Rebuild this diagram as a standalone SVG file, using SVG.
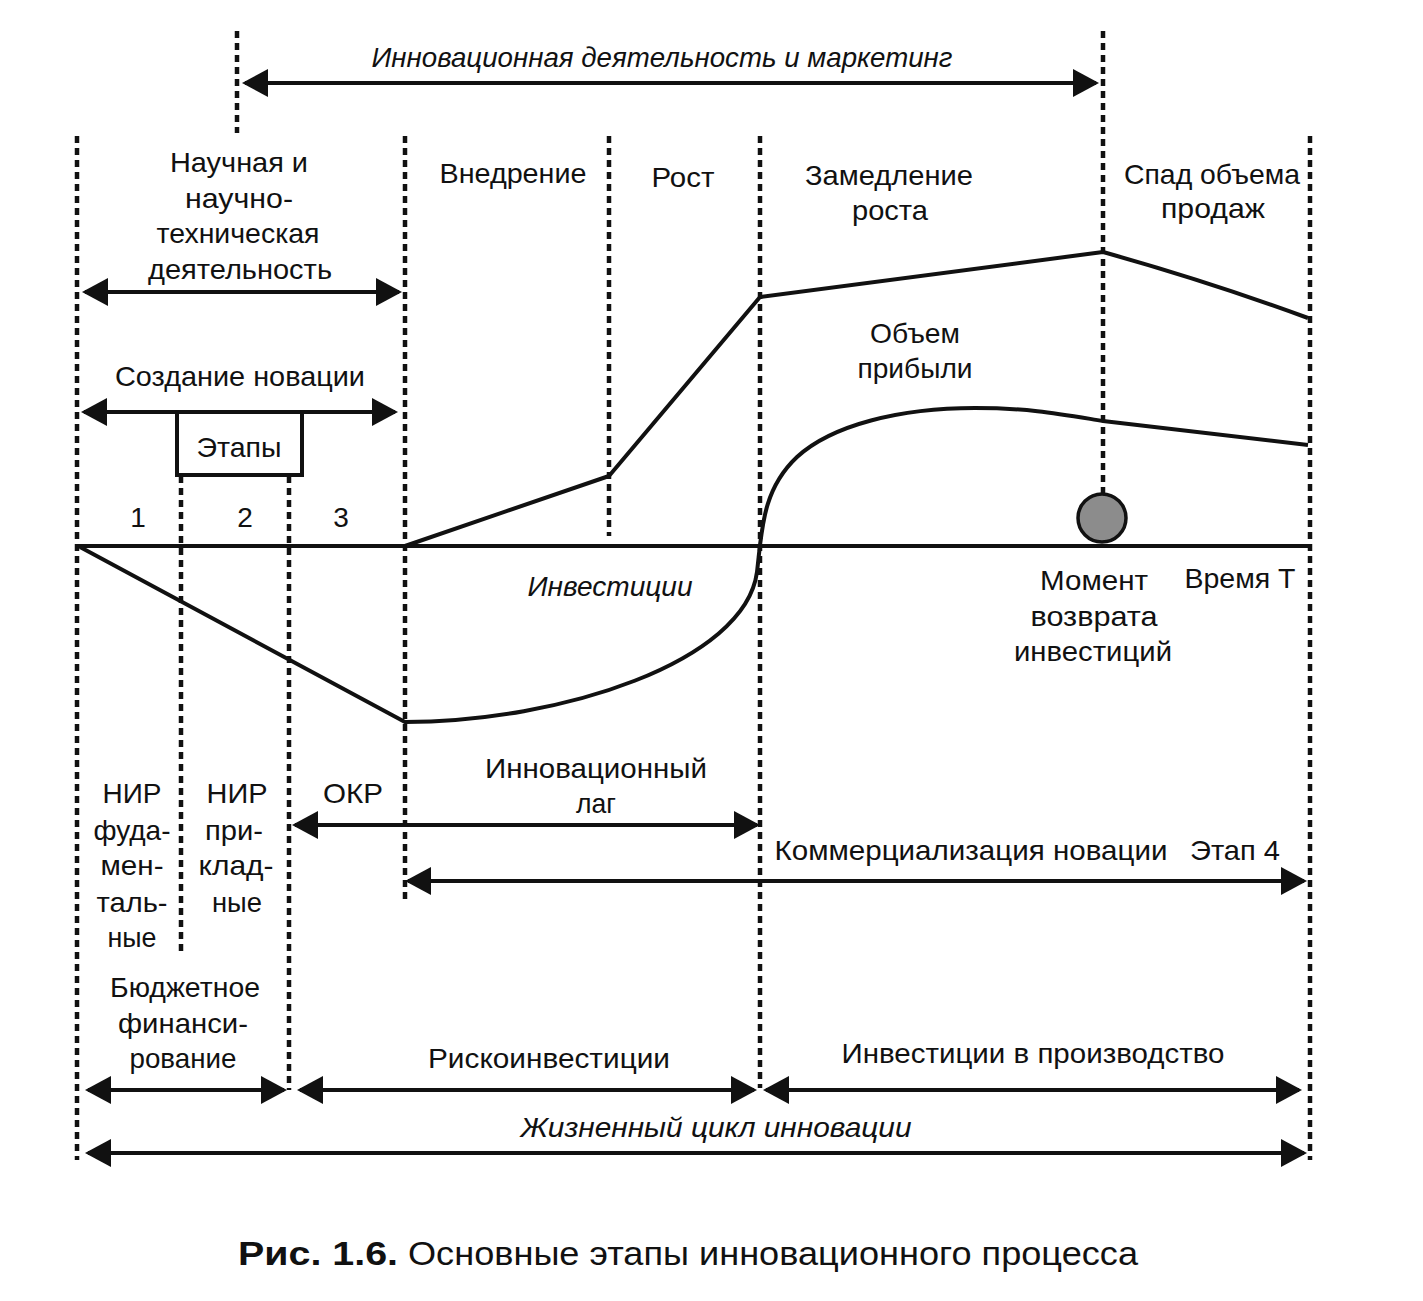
<svg xmlns="http://www.w3.org/2000/svg" width="1423" height="1301" viewBox="0 0 1423 1301">
<style>
.dash{stroke:#111;stroke-width:4.5;stroke-dasharray:7 5;fill:none}
.solid{stroke:#111;stroke-width:4;fill:none;stroke-linejoin:round}
.arr{stroke:#111;stroke-width:4;fill:none;marker-start:url(#ah);marker-end:url(#ah)}
text{font-family:"Liberation Sans",Arial,sans-serif;font-size:28px;fill:#111;text-anchor:middle}
.it{font-style:italic}
.cap{font-size:34px;text-anchor:start}
.capb{font-size:34px;text-anchor:start;font-weight:bold}
</style>
<defs>
<marker id="ah" viewBox="0 0 26 28" refX="23" refY="14" markerWidth="26" markerHeight="28" markerUnits="userSpaceOnUse" orient="auto-start-reverse">
<path d="M0,0 L26,14 L0,28 Z" fill="#111"/>
</marker>
</defs>
<rect width="1423" height="1301" fill="#fff"/>

<g id="guides">
<line class="dash" x1="77" y1="136" x2="77" y2="1160"/>
<line class="dash" x1="237" y1="31" x2="237" y2="133"/>
<line class="dash" x1="405" y1="136" x2="405" y2="900"/>
<line class="dash" x1="609" y1="136" x2="609" y2="536"/>
<line class="dash" x1="760" y1="136" x2="760" y2="1088"/>
<line class="dash" x1="1103" y1="31" x2="1103" y2="494"/>
<line class="dash" x1="1310" y1="136" x2="1310" y2="1160"/>
<line class="dash" x1="181" y1="476" x2="181" y2="956"/>
<line class="dash" x1="289" y1="476" x2="289" y2="1090"/>
</g>

<g id="axis">
<line class="solid" x1="77" y1="546" x2="1310" y2="546"/>
</g>

<g id="curves">
<path id="sales" class="solid" d="M405,546 L609,476 L760,297 L1103,252 Q1210,282 1308,318"/>
<path id="profit" class="solid" d="M80,547 L405,722 C560,722 745,662 757,572 C762,530 762,490 797,457 C832,425 900,408 975,408 C1030,408 1060,414 1103,421 L1308,445"/>
</g>

<g id="connectors">
<line class="arr" x1="245" y1="83" x2="1096" y2="83"/>
<line class="arr" x1="85" y1="292" x2="399" y2="292"/>
<line class="arr" x1="84" y1="412" x2="395" y2="412"/>
<line class="arr" x1="295" y1="825" x2="757" y2="825"/>
<line class="arr" x1="408" y1="881" x2="1304" y2="881"/>
<line class="arr" x1="88" y1="1090" x2="284" y2="1090"/>
<line class="arr" x1="300" y1="1090" x2="754" y2="1090"/>
<line class="arr" x1="766" y1="1090" x2="1299" y2="1090"/>
<line class="arr" x1="88" y1="1153" x2="1304" y2="1153"/>
</g>

<g id="node-etapy">
<rect x="177" y="412" width="125" height="63" fill="#fff" stroke="#111" stroke-width="4"/>
<text x="239" y="457" textLength="85" lengthAdjust="spacingAndGlyphs">Этапы</text>
</g>

<g id="node-moment">
<circle cx="1102" cy="518" r="24" fill="#8c8c8c" stroke="#111" stroke-width="3.5"/>
<text x="1094" y="590" textLength="108" lengthAdjust="spacingAndGlyphs">Момент</text>
<text x="1094" y="626" textLength="127" lengthAdjust="spacingAndGlyphs">возврата</text>
<text x="1093" y="661" textLength="158" lengthAdjust="spacingAndGlyphs">инвестиций</text>
</g>

<g id="label-marketing">
<text class="it" x="662" y="67" textLength="581" lengthAdjust="spacingAndGlyphs">Инновационная деятельность и маркетинг</text>
</g>

<g id="label-science">
<text x="239" y="172" textLength="138" lengthAdjust="spacingAndGlyphs">Научная и</text>
<text x="239" y="208" textLength="108" lengthAdjust="spacingAndGlyphs">научно-</text>
<text x="238" y="243" textLength="163" lengthAdjust="spacingAndGlyphs">техническая</text>
<text x="240" y="279" textLength="184" lengthAdjust="spacingAndGlyphs">деятельность</text>
</g>

<g id="label-phases">
<text x="513" y="183" textLength="147" lengthAdjust="spacingAndGlyphs">Внедрение</text>
<text x="683" y="187" textLength="63" lengthAdjust="spacingAndGlyphs">Рост</text>
<text x="889" y="185" textLength="168" lengthAdjust="spacingAndGlyphs">Замедление</text>
<text x="890" y="220" textLength="76" lengthAdjust="spacingAndGlyphs">роста</text>
<text x="1212" y="184" textLength="176" lengthAdjust="spacingAndGlyphs">Спад объема</text>
<text x="1213" y="218" textLength="104" lengthAdjust="spacingAndGlyphs">продаж</text>
</g>

<g id="label-profit">
<text x="915" y="343" textLength="90" lengthAdjust="spacingAndGlyphs">Объем</text>
<text x="915" y="378" textLength="115" lengthAdjust="spacingAndGlyphs">прибыли</text>
</g>

<g id="label-creation">
<text x="240" y="386" textLength="250" lengthAdjust="spacingAndGlyphs">Создание новации</text>
</g>

<g id="label-stages">
<text x="138" y="527">1</text>
<text x="245" y="527">2</text>
<text x="341" y="527">3</text>
</g>

<g id="label-investments">
<text class="it" x="610" y="596" textLength="165" lengthAdjust="spacingAndGlyphs">Инвестиции</text>
</g>

<g id="label-time">
<text x="1240" y="588" textLength="111" lengthAdjust="spacingAndGlyphs">Время Т</text>
</g>

<g id="label-lag">
<text x="596" y="778" textLength="222" lengthAdjust="spacingAndGlyphs">Инновационный</text>
<text x="596" y="813" textLength="40" lengthAdjust="spacingAndGlyphs">лаг</text>
</g>

<g id="label-nir1">
<text x="132" y="803" textLength="59" lengthAdjust="spacingAndGlyphs">НИР</text>
<text x="132" y="840" textLength="77" lengthAdjust="spacingAndGlyphs">фуда-</text>
<text x="132" y="875" textLength="63" lengthAdjust="spacingAndGlyphs">мен-</text>
<text x="132" y="912" textLength="71" lengthAdjust="spacingAndGlyphs">таль-</text>
<text x="132" y="947" textLength="49" lengthAdjust="spacingAndGlyphs">ные</text>
</g>

<g id="label-nir2">
<text x="237" y="803" textLength="61" lengthAdjust="spacingAndGlyphs">НИР</text>
<text x="234" y="840" textLength="58" lengthAdjust="spacingAndGlyphs">при-</text>
<text x="236" y="875" textLength="75" lengthAdjust="spacingAndGlyphs">клад-</text>
<text x="237" y="912" textLength="50" lengthAdjust="spacingAndGlyphs">ные</text>
</g>

<g id="label-okr">
<text x="353" y="803" textLength="60" lengthAdjust="spacingAndGlyphs">ОКР</text>
</g>

<g id="label-commerce">
<text x="971" y="860" textLength="393" lengthAdjust="spacingAndGlyphs">Коммерциализация новации</text>
<text x="1235" y="860" textLength="90" lengthAdjust="spacingAndGlyphs">Этап 4</text>
</g>

<g id="label-budget">
<text x="185" y="997" textLength="150" lengthAdjust="spacingAndGlyphs">Бюджетное</text>
<text x="183" y="1033" textLength="130" lengthAdjust="spacingAndGlyphs">финанси-</text>
<text x="183" y="1068" textLength="107" lengthAdjust="spacingAndGlyphs">рование</text>
</g>

<g id="label-risk">
<text x="549" y="1068" textLength="242" lengthAdjust="spacingAndGlyphs">Рискоинвестиции</text>
</g>

<g id="label-production">
<text x="1033" y="1063" textLength="383" lengthAdjust="spacingAndGlyphs">Инвестиции в производство</text>
</g>

<g id="label-lifecycle">
<text class="it" x="716" y="1137" textLength="391" lengthAdjust="spacingAndGlyphs">Жизненный цикл инновации</text>
</g>

<g id="caption">
<text class="capb" x="238" y="1265" textLength="160" lengthAdjust="spacingAndGlyphs">Рис. 1.6.</text>
<text class="cap" x="408" y="1265" textLength="730" lengthAdjust="spacingAndGlyphs">Основные этапы инновационного процесса</text>
</g>
</svg>
